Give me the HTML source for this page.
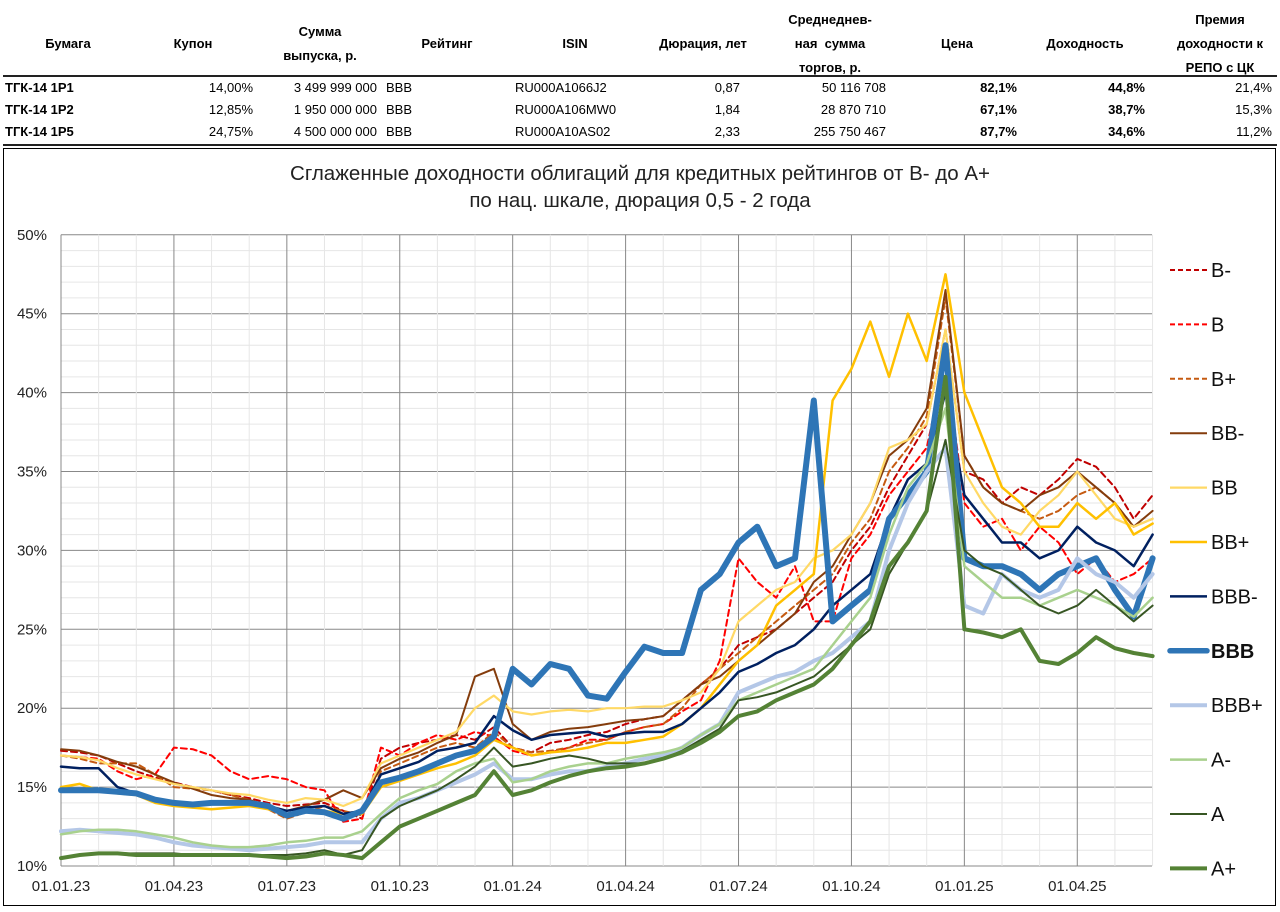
<!DOCTYPE html>
<html><head><meta charset="utf-8">
<style>
body{margin:0;background:#fff;width:1280px;height:912px;overflow:hidden;position:relative;font-family:"Liberation Sans","Noto Sans CJK SC",sans-serif;}
.t{position:absolute;font-size:13px;white-space:nowrap;color:#000;}
.h{font-weight:bold;text-align:center;line-height:24px;}
.r{text-align:right;}
.b{font-weight:bold;}
</style></head><body>
<div>
<div class="t h" style="left:18px;top:32px;width:100px">Бумага</div>
<div class="t h" style="left:143px;top:32px;width:100px">Купон</div>
<div class="t h" style="left:260px;top:20px;width:120px">Сумма<br>выпуска, р.</div>
<div class="t h" style="left:397px;top:32px;width:100px">Рейтинг</div>
<div class="t h" style="left:525px;top:32px;width:100px">ISIN</div>
<div class="t h" style="left:643px;top:32px;width:120px">Дюрация, лет</div>
<div class="t h" style="left:760px;top:8px;width:140px">Среднеднев-<br>ная&nbsp; сумма<br>торгов, р.</div>
<div class="t h" style="left:907px;top:32px;width:100px">Цена</div>
<div class="t h" style="left:1030px;top:32px;width:110px">Доходность</div>
<div class="t h" style="left:1150px;top:8px;width:140px">Премия<br>доходности к<br>РЕПО с ЦК</div>
<div style="position:absolute;left:3px;top:75px;width:1274px;height:2px;background:#222"></div>
<div style="position:absolute;left:3px;top:144px;width:1274px;height:2px;background:#222"></div>
<div id="rows"></div>
</div>

<div style="position:absolute;left:3px;top:148px;width:1273px;height:758px;border:1px solid #000;box-sizing:border-box"></div>
<div class="t" style="left:0;width:1280px;top:160px;text-align:center;font-size:20.5px;line-height:27px;color:#222">Сглаженные доходности облигаций для кредитных рейтингов от B- до A+<br>по нац. шкале, дюрация 0,5 - 2 года</div>

<svg id="chart" width="1280" height="912" style="position:absolute;left:0;top:0"></svg>

<script>
const tableRows=[
 ["ТГК-14 1Р1","14,00%","3 499 999 000","BBB","RU000A1066J2","0,87","50 116 708","82,1%","44,8%","21,4%"],
 ["ТГК-14 1Р2","12,85%","1 950 000 000","BBB","RU000A106MW0","1,84","28 870 710","67,1%","38,7%","15,3%"],
 ["ТГК-14 1Р5","24,75%","4 500 000 000","BBB","RU000A10AS02","2,33","255 750 467","87,7%","34,6%","11,2%"]];
const colX=[[5,'l',1],[253,'r',0],[377,'r',0],[386,'l',0],[515,'l',0],[740,'r',0],[886,'r',0],[1017,'r',1],[1145,'r',1],[1272,'r',0]];
const rowsEl=document.getElementById('rows');
tableRows.forEach((row,ri)=>{row.forEach((v,ci)=>{
 const d=document.createElement('div');d.className='t'+(colX[ci][2]?' b':'');
 
 
 d.textContent=v;const y=80+ri*22;
 if(colX[ci][1]=='l'){d.style.left=colX[ci][0]+'px';}else{d.style.right=(1280-colX[ci][0])+'px';}
 d.style.top=y+'px';rowsEl.appendChild(d);});});

const xLabels=["01.01.23","01.04.23","01.07.23","01.10.23","01.01.24","01.04.24","01.07.24","01.10.24","01.01.25","01.04.25"];
const yTicks=[10,15,20,25,30,35,40,45,50];
const seriesNames=["B-","B","B+","BB-","BB","BB+","BBB-","BBB","BBB+","A-","A","A+"];
const sBm=[17.3,17.2,17.0,16.5,16.0,15.6,15.3,15.0,14.8,14.5,14.3,14.0,13.8,13.9,14.0,13.5,13.0,16.8,17.5,17.8,18.0,18.3,18.0,18.8,17.5,17.2,17.8,18.0,18.3,18.5,19.0,19.3,19.5,20.5,21.5,22.5,24.0,24.5,25.0,26.0,27.0,28.0,30.0,31.5,34.0,36.0,38.0,44.0,35.0,34.5,33.0,34.0,33.5,34.5,35.8,35.3,34.0,32.0,33.5];
const sB=[17.0,16.9,16.8,16.0,15.5,15.8,17.5,17.4,17.0,16.0,15.5,15.7,15.5,15.0,14.8,12.8,13.0,17.5,17.0,17.8,18.3,18.0,18.5,18.2,17.3,17.0,17.2,17.5,18.0,18.0,18.5,18.8,19.0,19.8,20.5,23.0,29.5,28.0,27.0,29.0,25.5,25.5,29.5,31.0,33.5,35.0,36.5,42.0,33.0,31.5,32.0,30.0,31.5,30.5,28.5,29.5,28.0,28.5,29.5];
const sBp=[17.0,16.8,16.5,16.5,16.5,15.8,15.0,14.9,14.8,14.5,14.2,13.6,13.0,13.4,13.8,13.5,13.2,16.0,16.5,17.0,17.5,17.8,17.5,18.5,17.5,17.2,17.3,17.5,17.8,18.0,18.5,18.8,19.0,20.0,21.5,22.5,23.5,24.5,25.5,26.5,27.5,28.5,30.5,32.0,35.0,36.5,38.5,46.0,36.0,34.0,33.0,32.5,32.0,32.5,33.5,34.0,33.0,31.5,32.0];
const sBBm=[17.4,17.3,17.0,16.6,16.3,15.8,15.3,14.9,14.5,14.3,14.2,13.8,13.5,13.8,14.2,14.8,14.3,16.2,16.8,17.2,17.8,18.3,22.0,22.5,19.0,18.0,18.5,18.7,18.8,19.0,19.2,19.3,19.5,20.5,21.5,22.0,23.0,24.0,25.0,26.0,28.0,29.0,31.0,33.0,36.0,37.0,39.0,46.5,36.0,34.0,33.0,32.5,33.5,34.0,35.0,34.0,33.0,31.5,32.5];
const sBB=[17.0,16.9,16.7,16.2,15.8,15.5,15.2,15.0,14.8,14.6,14.5,14.2,14.0,14.3,14.2,13.8,14.3,16.5,17.0,17.5,18.0,18.5,20.0,20.8,19.8,19.6,19.8,19.9,19.8,20.0,20.0,20.1,20.1,20.5,21.0,22.5,25.5,26.5,27.5,28.0,29.5,30.0,31.0,33.0,36.5,37.0,38.0,44.0,35.0,33.0,31.5,31.0,32.5,33.5,35.0,33.5,32.0,31.5,32.0];
const sBBp=[15.0,15.2,14.8,14.6,14.5,14.0,13.8,13.7,13.6,13.7,13.8,13.6,13.3,13.4,13.5,13.3,13.3,15.0,15.4,15.8,16.2,16.5,17.0,18.0,17.5,17.0,17.2,17.3,17.5,17.8,17.8,18.0,18.2,19.0,20.0,21.5,23.0,24.0,26.5,27.5,28.5,39.5,41.5,44.5,41.0,45.0,42.0,47.5,40.0,37.0,34.0,33.0,31.5,31.5,33.0,32.0,33.0,31.0,31.7];
const sBBBm=[16.3,16.2,16.2,15.0,14.6,14.2,14.0,14.0,14.0,14.0,14.0,13.8,13.5,13.7,13.8,13.3,13.5,15.8,16.2,16.6,17.3,17.5,17.8,19.5,18.6,18.0,18.3,18.4,18.5,18.2,18.4,18.5,18.5,19.0,20.0,21.0,22.3,22.8,23.5,24.0,25.0,26.5,27.5,28.5,32.0,34.5,35.5,40.0,33.5,32.0,30.5,30.5,29.5,30.0,31.5,30.5,30.0,29.0,31.0];
const sBBB=[14.8,14.8,14.8,14.7,14.6,14.2,14.0,13.9,14.0,14.0,14.0,13.8,13.2,13.5,13.4,13.0,13.5,15.3,15.6,16.0,16.5,17.0,17.3,18.2,22.5,21.5,22.8,22.5,20.8,20.6,22.3,23.9,23.5,23.5,27.5,28.5,30.5,31.5,29.0,29.5,39.5,25.5,26.5,27.5,32.0,33.5,35.0,43.0,29.5,29.0,29.0,28.5,27.5,28.5,29.0,29.5,27.5,25.8,29.5];
const sBBBp=[12.2,12.3,12.2,12.1,12.0,11.8,11.5,11.3,11.2,11.1,11.0,11.1,11.2,11.3,11.5,11.5,11.5,13.0,14.0,14.3,14.8,15.3,15.8,16.5,15.5,15.5,15.8,16.0,16.0,16.3,16.5,16.8,17.0,17.5,18.3,19.0,21.0,21.5,22.0,22.3,23.0,23.5,24.5,25.5,30.0,33.0,35.0,36.5,26.5,26.0,28.5,27.5,27.0,27.5,29.5,28.5,28.0,27.0,28.5];
const sAm=[12.0,12.2,12.3,12.3,12.2,12.0,11.8,11.5,11.3,11.2,11.2,11.3,11.5,11.6,11.8,11.8,12.2,13.3,14.3,14.8,15.2,16.0,16.5,16.8,15.3,15.5,16.0,16.3,16.5,16.5,16.8,17.0,17.2,17.5,18.3,19.0,20.5,21.0,21.5,22.0,22.5,24.0,25.5,27.0,31.0,34.0,35.5,39.0,29.0,28.0,27.0,27.0,26.5,27.0,27.5,27.0,26.5,25.8,27.0];
const sA=[10.5,10.7,10.8,10.8,10.8,10.8,10.8,10.7,10.7,10.7,10.7,10.7,10.7,10.8,11.0,10.7,11.0,13.0,13.8,14.3,14.8,15.5,16.3,17.5,16.3,16.5,16.8,17.0,16.8,16.5,16.5,16.5,16.8,17.3,18.0,18.7,20.5,20.7,21.0,21.5,22.0,23.0,24.0,25.0,28.5,30.5,32.5,37.0,30.0,29.0,28.5,27.5,26.5,26.0,26.5,27.5,26.5,25.5,26.5];
const sAp=[10.5,10.7,10.8,10.8,10.7,10.7,10.7,10.7,10.7,10.7,10.7,10.6,10.5,10.6,10.8,10.7,10.5,11.5,12.5,13.0,13.5,14.0,14.5,16.0,14.5,14.8,15.3,15.7,16.0,16.2,16.3,16.5,16.8,17.2,17.8,18.5,19.5,19.8,20.5,21.0,21.5,22.5,24.0,25.5,29.0,30.5,32.5,41.0,25.0,24.8,24.5,25.0,23.0,22.8,23.5,24.5,23.8,23.5,23.3];
const seriesValues=[sBm,sB,sBp,sBBm,sBB,sBBp,sBBBm,sBBB,sBBBp,sAm,sA,sAp];

const styles=[
 {c:'#c00000',w:2,d:'6,4'},{c:'#ff0000',w:2,d:'6,4'},{c:'#c55a11',w:2,d:'6,4'},
 {c:'#843c0c',w:2},{c:'#ffd966',w:2.2},{c:'#ffc000',w:2.5},{c:'#002060',w:2.5},
 {c:'#2e75b6',w:6},{c:'#b4c7e7',w:4},{c:'#a9d18e',w:2.5},{c:'#375623',w:2},{c:'#548235',w:4}];
const X0=61,STEP=18.82,Y0=866,PPP=15.78;
const xS=i=>X0+i*STEP;
const yS=v=>Y0-(v-10)*PPP;
const svg=document.getElementById('chart');
const NS='http://www.w3.org/2000/svg';
function mk(tag,attrs,parent){const e=document.createElementNS(NS,tag);for(const k in attrs)e.setAttribute(k,attrs[k]);(parent||svg).appendChild(e);return e;}
const xRight=1152,yTop=yS(50);
const grid=mk('g',{});


for(let v=10;v<=50;v++){mk('line',{x1:X0,x2:xRight,y1:yS(v),y2:yS(v),stroke:v%5==0?'#888':'#e6e6e6','stroke-width':1},grid);}
for(let m=0;m<=29;m++){const x=xS(m*2);mk('line',{x1:x,x2:x,y1:yTop,y2:Y0,stroke:m%3==0?'#888':'#e6e6e6','stroke-width':1},grid);}
yTicks.forEach(v=>{const t=mk('text',{x:47,y:yS(v)+5,'text-anchor':'end','font-size':15,'font-family':'Liberation Sans, sans-serif',fill:'#222'});
 
 
 t.textContent=v+'%';});
xLabels.forEach((s,k)=>{const t=mk('text',{x:xS(k*6),y:891,'text-anchor':'middle','font-size':15,'font-family':'Liberation Sans, sans-serif',fill:'#222'});
 
 
 t.textContent=s;});
seriesValues.forEach((vals,si)=>{const st=styles[si];
 const p=mk('polyline',{points:vals.map((v,i)=>xS(i).toFixed(1)+','+yS(v).toFixed(1)).join(' '),fill:'none',stroke:st.c,'stroke-width':st.w,'stroke-linejoin':'round','stroke-linecap':'round'});
 if(st.d)p.setAttribute('stroke-dasharray',st.d);
 
 
 const ly=270+si*54.4;
 const g=mk('g',{});
 
 
 const ll=mk('line',{x1:1170,x2:1207,y1:ly,y2:ly,stroke:st.c,'stroke-width':Math.min(st.w,5.5),'stroke-linecap':si==7?'round':'butt'},g);
 if(st.d)ll.setAttribute('stroke-dasharray','5,3');
 const t=mk('text',{x:1211,y:ly+7,'font-size':20,'font-family':'Liberation Sans, sans-serif',fill:'#111','font-weight':si==7?'bold':'normal'},g);
 t.textContent=seriesNames[si];});
</script>
</body></html>
